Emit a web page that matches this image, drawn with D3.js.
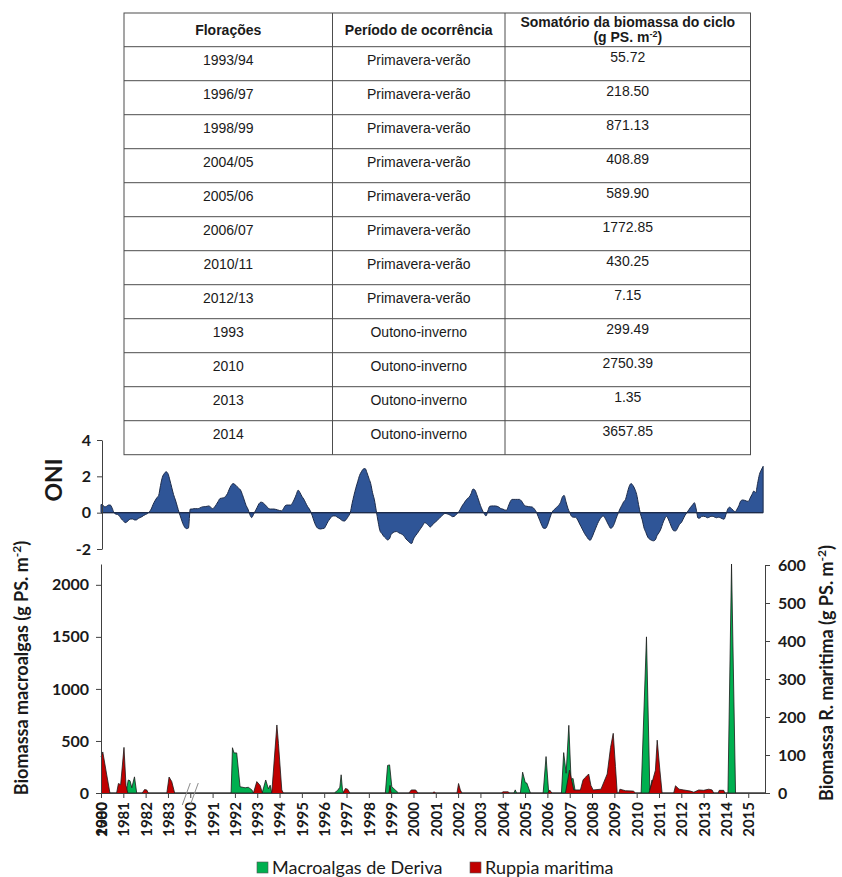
<!DOCTYPE html>
<html>
<head>
<meta charset="utf-8">
<script src="https://cdn.jsdelivr.net/npm/d3@7/dist/d3.min.js"></script>
<style>
  body { margin: 0; background: #fff; }
  svg { display: block; }
</style>
</head>
<body>
<svg id="chart" width="842" height="877"></svg>
<script>
// ---- table ----
const florCol = ["1993/94", "1996/97", "1998/99", "2004/05", "2005/06", "2006/07",
  "2010/11", "2012/13", "1993", "2010", "2013", "2014"];
const periodCol = ["Primavera-verão", "Primavera-verão", "Primavera-verão", "Primavera-verão",
  "Primavera-verão", "Primavera-verão", "Primavera-verão", "Primavera-verão",
  "Outono-inverno", "Outono-inverno", "Outono-inverno", "Outono-inverno"];
const somaCol = ["55.72", "218.50", "871.13", "408.89", "589.90", "1772.85",
  "430.25", "7.15", "299.49", "2750.39", "1.35", "3657.85"];

// ---- x categories (axis jumps from 1983 to 1990) ----
const yearLabels = ["1980", "1981", "1982", "1983", "1990", "1991", "1992", "1993", "1994",
  "1995", "1996", "1997", "1998", "1999", "2000", "2001", "2002", "2003", "2004", "2005",
  "2006", "2007", "2008", "2009", "2010", "2011", "2012", "2013", "2014", "2015"];

// ---- ONI, monthly values ----
const oniYears = [1980, 1981, 1982, 1983, 1990, 1991, 1992, 1993, 1994, 1995, 1996, 1997,
  1998, 1999, 2000, 2001, 2002, 2003, 2004, 2005, 2006, 2007, 2008, 2009, 2010, 2011,
  2012, 2013, 2014, 2015];
const oniValues = [
  [0.45, 0.42, 0.32, 0.35, 0.42, 0.42, 0.25, 0.0, -0.08, -0.1, -0.2, -0.35],
  [-0.45, -0.55, -0.5, -0.4, -0.35, -0.35, -0.4, -0.4, -0.32, -0.27, -0.22, -0.15],
  [-0.1, -0.05, 0.05, 0.2, 0.45, 0.65, 0.82, 0.95, 1.5, 1.95, 2.15, 2.25],
  [2.15, 1.8, 1.4, 1.0, 0.7, 0.35, 0.0, -0.3, -0.6, -0.8, -0.88, -0.85],
  [0.2, 0.2, 0.22, 0.22, 0.22, 0.25, 0.3, 0.33, 0.33, 0.35, 0.37, 0.3],
  [0.22, 0.3, 0.45, 0.62, 0.78, 0.8, 0.82, 0.9, 1.05, 1.3, 1.5, 1.6],
  [1.55, 1.45, 1.35, 1.25, 1.0, 0.7, 0.4, 0.2, -0.1, -0.27, -0.1, 0.1],
  [0.3, 0.5, 0.58, 0.55, 0.46, 0.35, 0.24, 0.2, 0.2, 0.2, 0.18, 0.15],
  [0.12, 0.1, 0.2, 0.38, 0.42, 0.42, 0.42, 0.55, 0.75, 1.0, 1.24, 1.1],
  [0.9, 0.75, 0.55, 0.35, 0.2, 0.0, -0.3, -0.6, -0.8, -0.88, -0.9, -0.88],
  [-0.86, -0.7, -0.5, -0.35, -0.22, -0.18, -0.18, -0.25, -0.3, -0.38, -0.45, -0.46],
  [-0.35, -0.2, 0.0, 0.5, 0.95, 1.35, 1.7, 2.05, 2.25, 2.4, 2.43, 2.2],
  [1.9, 1.6, 1.1, 0.7, 0.1, -0.5, -1.0, -1.15, -1.3, -1.4, -1.5, -1.45],
  [-1.2, -1.1, -1.05, -1.04, -1.1, -1.15, -1.2, -1.3, -1.45, -1.55, -1.65, -1.7],
  [-1.45, -1.28, -1.15, -1.0, -0.85, -0.7, -0.55, -0.6, -0.7, -0.79, -0.7, -0.58],
  [-0.5, -0.4, -0.3, -0.2, -0.1, -0.04, -0.06, -0.1, -0.15, -0.22, -0.2, -0.1],
  [0.0, 0.15, 0.35, 0.5, 0.65, 0.78, 0.86, 1.05, 1.3, 1.25, 1.0, 0.7],
  [0.4, 0.15, -0.05, -0.18, 0.1, 0.35, 0.37, 0.37, 0.37, 0.35, 0.3, 0.22],
  [0.2, 0.15, 0.13, 0.35, 0.6, 0.73, 0.73, 0.73, 0.73, 0.73, 0.65, 0.5],
  [0.37, 0.35, 0.33, 0.32, 0.3, 0.2, 0.05, -0.2, -0.45, -0.7, -0.86, -0.86],
  [-0.7, -0.4, -0.1, 0.1, 0.2, 0.3, 0.4, 0.55, 0.85, 0.95, 0.6, 0.25],
  [0.0, -0.2, -0.25, -0.25, -0.35, -0.55, -0.75, -0.95, -1.15, -1.3, -1.45, -1.52],
  [-1.35, -1.1, -0.85, -0.6, -0.4, -0.25, -0.18, -0.3, -0.5, -0.7, -0.86, -0.8],
  [-0.6, -0.3, -0.05, 0.2, 0.4, 0.6, 0.73, 1.1, 1.45, 1.6, 1.5, 1.3],
  [1.0, 0.45, -0.05, -0.4, -0.85, -1.1, -1.35, -1.46, -1.52, -1.55, -1.5, -1.25],
  [-1.1, -0.9, -0.6, -0.35, -0.2, -0.35, -0.6, -0.85, -1.0, -1.0, -0.85, -0.65],
  [-0.55, -0.35, -0.15, 0.0, 0.15, 0.3, 0.42, 0.55, 0.2, -0.3, -0.3, -0.2],
  [-0.2, -0.22, -0.28, -0.25, -0.2, -0.2, -0.25, -0.28, -0.25, -0.28, -0.33, -0.36],
  [-0.1, 0.2, 0.3, 0.22, 0.12, 0.05, 0.2, 0.4, 0.65, 0.7, 0.68, 0.64],
  [0.62, 0.8, 1.0, 1.19, 1.1, 1.6, 2.1, 2.35, 2.55]
];

// ---- biomass, [decimal year, g PS m-2] ----
// macroalgas de deriva -> left axis
const macroalgas = [
  [1980.0, 0], [1981.12, 0], [1981.22, 125], [1981.3, 118], [1981.38, 50], [1981.5, 155], [1981.6, 0],
  [1991.83, 0], [1991.89, 435], [1991.96, 385], [1992.08, 385], [1992.23, 60], [1992.46, 50],
  [1992.6, 55], [1992.76, 30], [1992.83, 0],
  [1993.22, 0], [1993.38, 125], [1993.5, 40], [1993.58, 75], [1993.65, 0],
  [1996.45, 0], [1996.6, 25], [1996.7, 55], [1996.76, 175], [1996.82, 30], [1996.88, 0],
  [1998.74, 0], [1998.84, 265], [1998.93, 270], [1999.03, 60], [1999.18, 30], [1999.33, 0],
  [2004.5, 0], [2004.56, 30], [2004.62, 0],
  [2004.79, 0], [2004.89, 200], [2005.01, 100], [2005.08, 95], [2005.24, 0],
  [2005.81, 0], [2005.94, 350], [2006.06, 0],
  [2006.63, 0], [2006.73, 388], [2006.84, 190], [2006.96, 650], [2007.06, 130], [2007.15, 140],
  [2007.26, 0],
  [2010.2, 0], [2010.44, 1500], [2010.59, 30], [2010.69, 125], [2010.78, 0],
  [2014.09, 0], [2014.25, 2200], [2014.43, 0], [2015.75, 0]
];
// Ruppia maritima -> right axis
const ruppia = [
  [1980.0, 95], [1980.08, 108], [1980.25, 50], [1980.4, 0],
  [1980.7, 0], [1980.78, 25], [1980.88, 22], [1981.03, 120], [1981.12, 20], [1981.2, 0],
  [1981.85, 0], [1981.95, 9], [1982.05, 8], [1982.12, 0],
  [1982.95, 0], [1983.05, 42], [1983.17, 30], [1983.3, 0],
  [1992.83, 0], [1992.98, 30], [1993.13, 20], [1993.23, 0],
  [1993.65, 0], [1993.88, 179], [1993.95, 130], [1994.1, 8], [1994.17, 0],
  [1996.85, 0], [1996.95, 12], [1997.05, 10], [1997.15, 0],
  [1998.9, 0], [1998.95, 20], [1999.0, 0],
  [1999.8, 0], [1999.9, 8], [2000.1, 8], [2000.2, 0],
  [2000.85, 0], [2000.92, 3], [2001.0, 0],
  [2001.95, 0], [2002.02, 25], [2002.1, 8], [2002.17, 0],
  [2003.95, 0], [2004.0, 3], [2004.25, 3], [2004.3, 0],
  [2006.02, 0], [2006.1, 8], [2006.2, 0],
  [2006.81, 0], [2006.99, 60], [2007.1, 30], [2007.18, 8], [2007.48, 8], [2007.6, 35],
  [2007.72, 42], [2007.85, 50], [2007.95, 20], [2008.05, 8], [2008.4, 10], [2008.68, 50],
  [2008.83, 120], [2008.95, 157], [2009.05, 70], [2009.13, 0],
  [2009.2, 0], [2009.25, 10], [2009.5, 6], [2009.85, 5], [2009.95, 0],
  [2010.55, 0], [2010.69, 28], [2010.84, 60], [2010.92, 139], [2011.04, 60], [2011.14, 0],
  [2011.66, 0], [2011.74, 19], [2011.9, 10], [2012.11, 8], [2012.41, 5], [2012.56, 2],
  [2012.78, 8], [2013.0, 7], [2013.23, 10], [2013.38, 8], [2013.45, 0],
  [2013.65, 0], [2013.7, 7], [2013.9, 7], [2013.95, 0], [2015.75, 0]
];

const legendItems = [
  { name: "Macroalgas de Deriva", color: "#00b050" },
  { name: "Ruppia maritima", color: "#c00000" }
];

const svg = d3.select("#chart");
const font = "Lato, 'Open Sans', sans-serif";
const axisColor = "#404040";

// year -> category index (1984-1989 are cut out)
function yearPos(t) {
  return t < 1990 ? t - 1980 : t - 1986;
}

const x = d3.scaleLinear().domain([0, 29.75]).range([101, 765]);
const yOni = d3.scaleLinear().domain([-2, 4]).range([549, 440]);
const yLeft = d3.scaleLinear().domain([0, 2200]).range([793, 564]);
const yRight = d3.scaleLinear().domain([0, 600]).range([793, 565]);

const plain = d => String(d).replace("\u2212", "-");

function styleAxis(g) {
  g.attr("font-family", font).attr("font-size", 16).attr("font-weight", "bold");
  g.select(".domain").attr("stroke", axisColor);
  g.selectAll(".tick line").attr("stroke", axisColor);
  g.selectAll(".tick text").attr("fill", "#1a1a1a");
}

// ---- ONI panel ----
let oniPoints = [];
oniYears.forEach((yr, i) => {
  oniValues[i].forEach((v, m) => oniPoints.push([yr + m / 12, v]));
});

const oniArea = d3.area()
  .x(d => x(yearPos(d[0])))
  .y0(yOni(0))
  .y1(d => yOni(d[1]))
  .curve(d3.curveMonotoneX);

svg.append("path")
  .datum(oniPoints)
  .attr("d", oniArea)
  .attr("fill", "#2f5597")
  .attr("stroke", "#1c2b4a")
  .attr("stroke-width", 1);

const lastOni = oniPoints[oniPoints.length - 1];
svg.append("line")
  .attr("x1", x(0)).attr("x2", x(yearPos(lastOni[0])))
  .attr("y1", yOni(0)).attr("y2", yOni(0))
  .attr("stroke", "#1c2b4a").attr("stroke-width", 1.2);

svg.append("g")
  .attr("transform", "translate(102,0)")
  .call(d3.axisLeft(yOni).tickValues([-2, 0, 2, 4]).tickFormat(plain)
    .tickSize(5).tickSizeOuter(0).tickPadding(6))
  .call(styleAxis);

svg.append("text")
  .attr("transform", "translate(62,480) rotate(-90)")
  .attr("text-anchor", "middle")
  .attr("font-family", font).attr("font-weight", "bold").attr("font-size", 23)
  .attr("fill", "#1a1a1a")
  .text("ONI");

// ---- biomass panel ----
function areaOn(y) {
  return d3.area().x(d => x(yearPos(d[0]))).y0(y(0)).y1(d => y(d[1]));
}
function lineOn(y) {
  return d3.line().x(d => x(yearPos(d[0]))).y(d => y(d[1]));
}

svg.append("path").datum(macroalgas).attr("d", areaOn(yLeft))
  .attr("fill", legendItems[0].color);
svg.append("path").datum(macroalgas).attr("d", lineOn(yLeft))
  .attr("fill", "none").attr("stroke", "#1a1a1a").attr("stroke-width", 0.8);

svg.append("path").datum(ruppia).attr("d", areaOn(yRight))
  .attr("fill", legendItems[1].color);
svg.append("path").datum(ruppia).attr("d", lineOn(yRight))
  .attr("fill", "none").attr("stroke", "#1a1a1a").attr("stroke-width", 0.8);

svg.append("g")
  .attr("transform", "translate(101,0)")
  .call(d3.axisLeft(yLeft).tickValues([0, 500, 1000, 1500, 2000]).tickFormat(plain)
    .tickSize(5).tickSizeOuter(0).tickPadding(7))
  .call(styleAxis);

svg.append("g")
  .attr("transform", "translate(765,0)")
  .call(d3.axisRight(yRight).tickValues([0, 100, 200, 300, 400, 500, 600]).tickFormat(plain)
    .tickSize(5).tickSizeOuter(0).tickPadding(8))
  .call(styleAxis);

const xAxis = svg.append("g")
  .attr("transform", "translate(0,793)")
  .call(d3.axisBottom(x).tickValues(d3.range(yearLabels.length)).tickFormat(i => yearLabels[i])
    .tickSize(5).tickSizeOuter(0))
  .call(styleAxis);

xAxis.attr("font-size", 15);
xAxis.selectAll(".tick text")
  .attr("transform", "rotate(-90)")
  .attr("x", -9).attr("y", 0).attr("dy", "0.36em")
  .attr("text-anchor", "end");

// the first category label is printed over a second one in the original
xAxis.select(".tick").append("text")
  .attr("transform", "rotate(-90)")
  .attr("x", -9).attr("y", 0).attr("dy", "0.36em")
  .attr("text-anchor", "end").attr("fill", "#1a1a1a")
  .text("2000");

// break marks at the cut 1983 -> 1990
const bx = x(yearPos(1990));
[-4, 4].forEach(dx => {
  svg.append("line")
    .attr("x1", bx + dx - 4).attr("y1", 805)
    .attr("x2", bx + dx + 4).attr("y2", 783)
    .attr("stroke", "#8c8c8c").attr("stroke-width", 1);
});

// axis titles
function titleWithSup(g, cx, cy, label) {
  const t = g.append("text")
    .attr("transform", `translate(${cx},${cy}) rotate(-90)`)
    .attr("text-anchor", "middle")
    .attr("font-family", font).attr("font-weight", "bold").attr("font-size", 18)
    .attr("fill", "#1a1a1a");
  t.append("tspan").text(label);
  t.append("tspan").attr("font-size", 12).attr("dy", -7).text("-2");
  t.append("tspan").attr("dy", 7).text(")");
}
titleWithSup(svg, 28, 668, "Biomassa macroalgas (g PS. m");
titleWithSup(svg, 833, 673, "Biomassa R. maritima (g PS. m");

// legend
const legend = svg.append("g").attr("font-family", font).attr("font-size", 18);
const legendX = [257, 470];
legendItems.forEach((d, i) => {
  legend.append("rect")
    .attr("x", legendX[i]).attr("y", 862).attr("width", 11).attr("height", 11)
    .attr("fill", d.color).attr("stroke", "#555").attr("stroke-width", 0.6);
  legend.append("text")
    .attr("x", legendX[i] + 15).attr("y", 874)
    .attr("fill", "#1a1a1a")
    .text(d.name);
});

// ---- table (drawn last, sits over the top of the ONI panel) ----
const tableX = [124, 332.5, 505, 750.5];
const tableTop = 13;
const headH = 33.7;
const rowH = 34;
const tableBottom = tableTop + headH + rowH * florCol.length;

const table = svg.append("g").attr("font-family", "Liberation Sans, Arial, sans-serif")
  .attr("font-size", 14).attr("fill", "#1a1a1a");

table.append("rect")
  .attr("x", tableX[0]).attr("y", tableTop)
  .attr("width", tableX[3] - tableX[0]).attr("height", tableBottom - tableTop)
  .attr("fill", "#fff").attr("stroke", "#4d4d4d").attr("stroke-width", 1);

d3.range(florCol.length).forEach(i => {
  const yy = tableTop + headH + rowH * i;
  table.append("line")
    .attr("x1", tableX[0]).attr("x2", tableX[3]).attr("y1", yy).attr("y2", yy)
    .attr("stroke", "#4d4d4d").attr("stroke-width", 1);
});
[1, 2].forEach(k => {
  table.append("line")
    .attr("x1", tableX[k]).attr("x2", tableX[k]).attr("y1", tableTop).attr("y2", tableBottom)
    .attr("stroke", "#4d4d4d").attr("stroke-width", 1);
});

const colMid = [0, 1, 2].map(k => (tableX[k] + tableX[k + 1]) / 2);

// header
const head = table.append("g").attr("font-weight", "bold").attr("text-anchor", "middle");
head.append("text").attr("x", colMid[0]).attr("y", 35).text("Florações");
head.append("text").attr("x", colMid[1]).attr("y", 35).text("Período de ocorrência");
head.append("text").attr("x", colMid[2]).attr("y", 27).text("Somatório da biomassa do ciclo");
const unit = head.append("text").attr("x", colMid[2]).attr("y", 42);
unit.append("tspan").text("(g PS. m");
unit.append("tspan").attr("font-size", 9).attr("dy", -5).text("-2");
unit.append("tspan").attr("dy", 5).text(")");

// body rows
const rows = table.append("g").attr("text-anchor", "middle")
  .selectAll("g").data(florCol).join("g")
  .attr("transform", (d, i) => `translate(0,${tableTop + headH + rowH * i})`);
rows.append("text").attr("x", colMid[0]).attr("y", 13).attr("dy", "0.35em").text(d => d);
rows.append("text").attr("x", colMid[1]).attr("y", 13).attr("dy", "0.35em").text((d, i) => periodCol[i]);
rows.append("text").attr("x", colMid[2]).attr("y", 10).attr("dy", "0.35em").text((d, i) => somaCol[i]);
</script>
</body>
</html>
